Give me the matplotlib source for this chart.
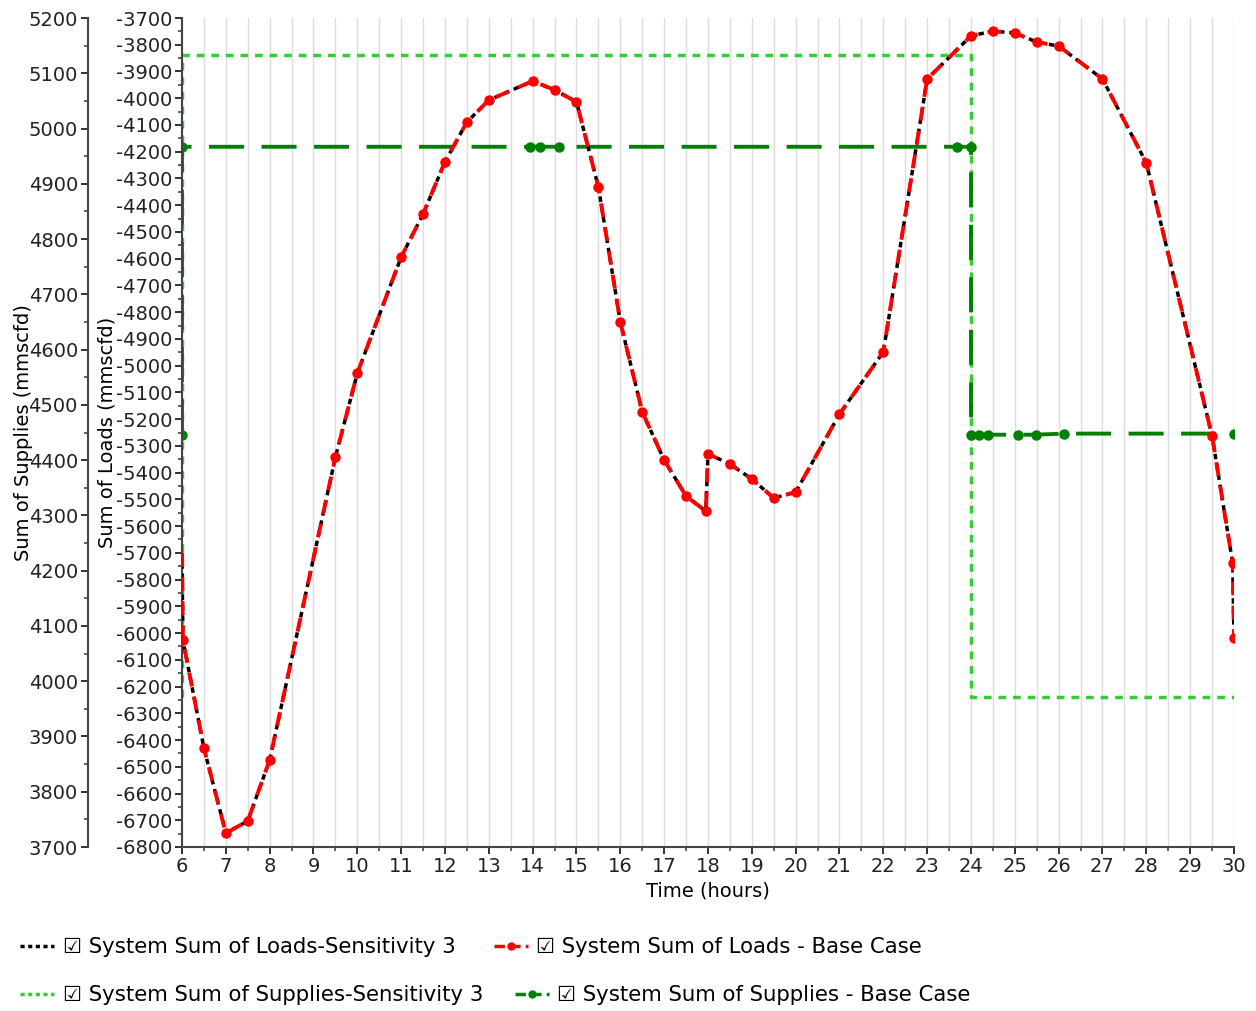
import matplotlib
matplotlib.use("Agg")
import matplotlib.pyplot as plt
from matplotlib.lines import Line2D
from matplotlib.ticker import MultipleLocator

plt.rcParams['font.family'] = ['DejaVu Sans']
plt.rcParams['axes.unicode_minus'] = False

# Sum of loads (mmscfd) - base case and sensitivity 3 overlap
load_time = [6.0, 6.02, 6.5, 7.0, 7.5, 8.0, 9.5, 10.0, 11.0, 11.5, 12.0, 12.5, 13.0,
             14.0, 14.5, 15.0, 15.5, 16.0, 16.5, 17.0, 17.5, 17.95, 18.0, 18.5, 19.0,
             19.5, 20.0, 21.0, 22.0, 23.0, 24.0, 24.5, 25.0, 25.5, 26.0, 27.0, 28.0,
             29.5, 29.97, 30.0]
load_base = [-5700, -6025, -6430, -6748, -6703, -6475, -5342, -5028, -4594, -4433,
             -4238, -4089, -4007, -3936, -3969, -4014, -4332, -4837, -5173, -5353,
             -5488, -5544, -5330, -5368, -5424, -5495, -5473, -5181, -4949, -3928,
             -3767, -3749, -3756, -3790, -3805, -3928, -4242, -5263, -5738, -6020]
load_sens3 = list(load_base)

# Sum of supplies (mmscfd)
sup_base_time = [6.0, 6.0, 13.94, 14.17, 14.6, 23.68, 24.0, 24.0, 24.18, 24.39,
                 25.07, 25.48, 26.12, 30.0]
sup_base = [4446, 4967, 4967, 4967, 4967, 4967, 4967, 4446, 4446, 4446,
            4446, 4446, 4448, 4448]
sup_sens_time = [6.0, 6.0, 24.0, 24.0, 30.0]
sup_sens3 = [3972, 5133, 5133, 3972, 3972]

fig = plt.figure(figsize=(12.56, 10.11), dpi=100)
ax = fig.add_axes([182 / 1256, 1 - 847 / 1011, 1052 / 1256, 829 / 1011])

# supplies on the outer (far left) axis
ax.plot(sup_sens_time, sup_sens3, color='#33cc33', lw=2.5, ls=(0, (2.2, 2)), zorder=2)
ax.plot(sup_base_time, sup_base, color='#008000', lw=2.8, ls=(0, (9, 4.5)),
        marker='o', ms=6.5, zorder=3)
ax.set_ylim(3700, 5200)
ax.set_xlim(6, 30)
ax.yaxis.set_major_locator(MultipleLocator(100))
ax.yaxis.set_minor_locator(MultipleLocator(50))
ax.xaxis.set_major_locator(MultipleLocator(1))
ax.xaxis.set_minor_locator(MultipleLocator(0.5))
ax.spines['left'].set_position(('outward', 68))
for s in ['top', 'right']:
    ax.spines[s].set_visible(False)
ax.grid(True, axis='x', which='both', color='#dcdcdc', lw=1)
ax.set_axisbelow(True)
ax.set_ylabel('Sum of Supplies (mmscfd)', fontsize=14)
ax.yaxis.set_label_coords(-0.142, 0.5)
ax.set_xlabel('Time (hours)', fontsize=14, labelpad=4)

# loads on the inner axis
ax2 = ax.twinx()
ax2.plot(load_time, load_sens3, color='black', lw=2.5, ls=(0, (1.6, 1.4)), zorder=3)
ax2.plot(load_time, load_base, color='#ff0000', lw=2.8, ls=(0, (3.6, 2.6)),
         marker='o', ms=6.5, markevery=list(range(1, len(load_time))), zorder=4)
ax2.set_ylim(-6800, -3700)
ax2.yaxis.tick_left()
ax2.yaxis.set_label_position('left')
ax2.yaxis.set_major_locator(MultipleLocator(100))
ax2.yaxis.set_minor_locator(MultipleLocator(50))
for s in ['top', 'right', 'bottom']:
    ax2.spines[s].set_visible(False)
ax2.spines['left'].set_visible(True)
ax2.set_ylabel('Sum of Loads (mmscfd)', fontsize=14)
ax2.yaxis.set_label_coords(-0.062, 0.5)

for a in (ax, ax2):
    a.spines['left'].set_color('#444444')
    a.spines['left'].set_linewidth(1.5)
    a.tick_params(axis='y', which='major', length=5, width=1.3, labelsize=14, pad=2,
                  colors='#222222')
    a.tick_params(axis='y', which='minor', length=3, width=1.2, colors='#444444')
ax.spines['bottom'].set_color('#444444')
ax.spines['bottom'].set_linewidth(1.5)
ax.tick_params(axis='x', which='major', length=5, width=1.3, labelsize=14, pad=2,
               colors='#222222')
ax.tick_params(axis='x', which='minor', length=3, width=1.2, colors='#444444')

# legend entries, laid out like the original check-box legend
entries = [
    (Line2D([], [], color='black', lw=2.5, ls=(0, (1.2, 1))),
     'System Sum of Loads-Sensitivity 3', 0.016, 947),
    (Line2D([], [], color='#ff0000', lw=2.5, ls=(0, (3, 1.5)), marker='o', ms=5,
            markevery=[0]),
     'System Sum of Loads - Base Case', 0.393, 947),
    (Line2D([], [], color='#33cc33', lw=2.5, ls=(0, (1.2, 1))),
     'System Sum of Supplies-Sensitivity 3', 0.016, 995),
    (Line2D([], [], color='#008000', lw=2.5, ls=(0, (3, 1.5)), marker='o', ms=5,
            markevery=[0]),
     'System Sum of Supplies - Base Case', 0.41, 995),
]
for handle, label, x, y in entries:
    fig.legend([handle], ['\u2611 ' + label], loc='center left',
               bbox_to_anchor=(x, 1 - y / 1011), frameon=False, fontsize=15.3,
               handlelength=1.6, handletextpad=0.4, borderpad=0, borderaxespad=0)

fig.savefig('out.png', dpi=100)
